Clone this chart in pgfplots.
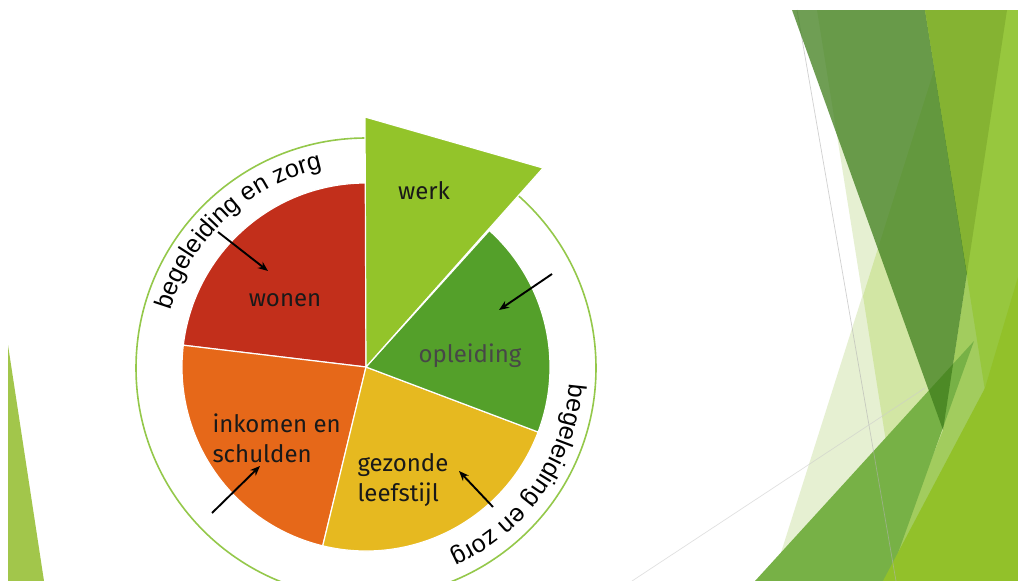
\documentclass[border=0pt]{standalone}
\usepackage{pgfplots}
\pgfplotsset{compat=1.18}
\usepackage{fontspec}
\setmainfont{Liberation Sans}
\newfontfamily\labelfont{Fira Sans}
\usetikzlibrary{decorations.text, arrows.meta}
\definecolor{cwonen}{HTML}{C22F1B}
\definecolor{cinkomen}{HTML}{E66819}
\definecolor{cgezond}{HTML}{E6B920}
\definecolor{copleid}{HTML}{54A02A}
\definecolor{cwerk}{HTML}{93C42A}
\definecolor{cring}{HTML}{94C84A}
\definecolor{bgsliver}{HTML}{A2C64B}
\definecolor{bgpale}{HTML}{E6F0D2}
\definecolor{bgmpale}{HTML}{D2E6A4}
\definecolor{bgH}{HTML}{A2CC5E}
\definecolor{bgM}{HTML}{77B146}
\definecolor{bgY}{HTML}{92C12A}
\definecolor{bgG}{HTML}{97C73E}
\definecolor{bgD}{HTML}{3F7E1C}
\definecolor{bgO}{HTML}{85B332}
\begin{document}
\begin{tikzpicture}
\useasboundingbox (0,0) rectangle (1018pt,581pt);
\begin{axis}[at={(0,0)}, anchor=south west, scale only axis,
  width=1018pt, height=581pt, xmin=0, xmax=1018, ymin=0, ymax=581,
  y dir=reverse, hide axis, clip=true]
% background facets
\addplot[fill=white, draw=none] coordinates {(0,0) (1018,0) (1018,581) (0,581)} -- cycle;
\addplot[fill=bgsliver, draw=none] coordinates {(8,345) (8,581) (44,581)} -- cycle;
\addplot[fill=bgpale, draw=none] coordinates {(817,10) (1018,10) (1018,581) (908,581)} -- cycle;
\addplot[fill=bgpale, draw=none] coordinates {(953,10) (1018,10) (1018,581) (772,581)} -- cycle;
\addplot[fill=bgmpale, draw=none] coordinates {(953,10) (1018,10) (1018,581) (908,581) (863,296)} -- cycle;
\addplot[fill=bgH, draw=none] coordinates {(967,273) (1018,200) (1018,581) (883,581) (943,430)} -- cycle;
\addplot[fill=bgM, draw=none] coordinates {(755,581) (974,341) (888,581)} -- cycle;
\addplot[fill=bgG, draw=none] coordinates {(925,10) (1018,10) (1018,581) (1015,581)} -- cycle;
\addplot[fill=bgY, draw=none] coordinates {(883,581) (985,388) (1018,277) (1018,581)} -- cycle;
\addplot[draw=black!30, line width=0.7pt, opacity=0.6] coordinates {(797,10) (896,581)};
\addplot[draw=black!20, line width=0.7pt, opacity=0.6] coordinates {(632,581) (925,388)};
\addplot[fill=bgD, fill opacity=0.75, draw=none] coordinates {(792,10) (925,10) (967,273) (943,430)} -- cycle;
\addplot[fill=bgO, draw=none] coordinates {(925,10) (1007,10) (967,273)} -- cycle;
% ring
\draw[cring, line width=1.6pt] (axis cs:366,368) circle[radius=230pt];
% pie wedges (angles in degrees, radius 184)
\fill[cwonen, draw=white, line width=1.2pt] (axis cs:366,367) -- ++(90:184pt) arc[start angle=90, end angle=173.2, radius=184pt] -- cycle;
\fill[cinkomen, draw=white, line width=1.2pt] (axis cs:366,367) -- ++(173.2:184pt) arc[start angle=173.2, end angle=256.4, radius=184pt] -- cycle;
\fill[cgezond, draw=white, line width=1.2pt] (axis cs:366,367) -- ++(256.4:184pt) arc[start angle=256.4, end angle=339.3, radius=184pt] -- cycle;
\fill[copleid, draw=white, line width=1.2pt] (axis cs:366,367) -- ++(339.3:184pt) arc[start angle=339.3, end angle=407.9, radius=184pt] -- cycle;
\addplot[fill=cwerk, draw=white, line width=1.2pt] coordinates {(366,367) (365,117) (543,168)} -- cycle;
% labels
\node[anchor=base, font=\labelfont\fontsize{24}{28}\selectfont, text=black!90] at (axis cs:424,199) {werk};
\node[anchor=base, font=\labelfont\fontsize{24}{28}\selectfont, text=black!90] at (axis cs:285,306) {wonen};
\node[anchor=base, font=\labelfont\fontsize{24}{28}\selectfont, text=black!72] at (axis cs:470,362) {opleiding};
\node[anchor=base west, font=\labelfont\fontsize{24}{28}\selectfont, text=black!90] at (axis cs:209,432) {inkomen en};
\node[anchor=base west, font=\labelfont\fontsize{24}{28}\selectfont, text=black!90] at (axis cs:209,462) {schulden};
\node[anchor=base west, font=\labelfont\fontsize{24}{28}\selectfont, text=black!90] at (axis cs:354,471) {gezonde};
\node[anchor=base west, font=\labelfont\fontsize{24}{28}\selectfont, text=black!90] at (axis cs:354,501) {leefstijl};
% arrows
\addplot[-{Stealth[length=10pt,width=8pt]}, line width=1.9pt, black] coordinates {(218,232) (268,271)};
\addplot[-{Stealth[length=10pt,width=8pt]}, line width=1.9pt, black] coordinates {(552,274) (499,310)};
\addplot[-{Stealth[length=10pt,width=8pt]}, line width=1.9pt, black] coordinates {(212,513) (260,466)};
\addplot[-{Stealth[length=10pt,width=8pt]}, line width=1.9pt, black] coordinates {(493,507) (459,471)};
% ring texts
\path[decorate, decoration={text along path, text align=center,
  text={|\fontsize{25}{29}\selectfont|begeleiding en zorg}}]
  (axis cs:366,368) ++(178:204pt) arc[start angle=178, end angle=88, radius=204pt];
\path[decorate, decoration={text along path, text align=center,
  text={|\fontsize{25}{29}\selectfont|begeleiding en zorg}}]
  (axis cs:366,368) ++(10:204pt) arc[start angle=10, end angle=-80, radius=204pt];
\end{axis}
\end{tikzpicture}
\end{document}
